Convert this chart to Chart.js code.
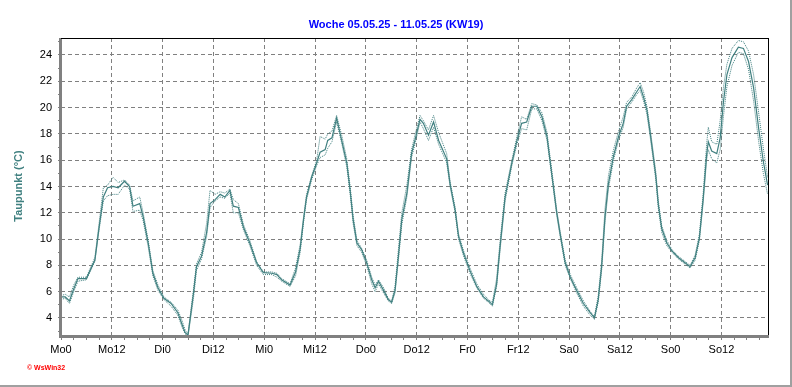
<!DOCTYPE html>
<html>
<head>
<meta charset="utf-8">
<script src="https://cdn.jsdelivr.net/npm/chart.js@4/dist/chart.umd.min.js"></script>
<style>
  html, body { margin: 0; padding: 0; background: #fff; }
  #wrap { width: 792px; height: 387px; }
</style>
</head>
<body>
<div id="wrap"><canvas id="taupunktChart" width="792" height="387"></canvas></div>
<script>
// Woche 05.05.25 - 11.05.25, Taupunkt in °C, Stunden ab Mo 0 Uhr
const xTickLabels = ['Mo0', 'Mo12', 'Di0', 'Di12', 'Mi0', 'Mi12', 'Do0', 'Do12', 'Fr0', 'Fr12', 'Sa0', 'Sa12', 'So0', 'So12'];
const yTickValues = [4, 6, 8, 10, 12, 14, 16, 18, 20, 22, 24];

const hours = [
    0, 1, 2, 3, 4, 6, 8, 9, 10, 11, 12.3, 13.5, 15, 16.2, 17, 18.6, 19.4, 20.6, 21.7, 22.9,
    24.3, 26, 27.6, 28.6, 29.3, 30, 31.3, 32, 33.2, 34.4, 35.2, 36.4, 37.6, 38.7, 39.9, 40.7, 41.9, 43.1, 44.6, 46.2,
    47.8, 49.8, 51, 52.1, 54.1, 55.4, 56.5, 57.3, 58, 59.2, 60.4, 61.2, 62.4, 63, 64, 65.1, 66.3, 67.5, 68.3, 69,
    69.9, 71, 72.2, 73.4, 74.2, 75, 76.2, 77.3, 78.1, 78.9, 79.7, 80.5, 81.7, 82.8, 83.6, 84.8, 85.6, 86.8, 88, 89.2,
    91.1, 91.9, 93.1, 93.9, 95.1, 96.6, 98.2, 99.8, 101.3, 101.9, 102.9, 103.7, 104.9, 106.5, 107.7, 108.8, 110, 111.2, 112.4, 113.6,
    114.8, 115.5, 116.3, 117.1, 117.9, 119.1, 120.3, 121.8, 123.4, 125, 126, 126.9, 127.7, 128.5, 129.3, 130.5, 131.7, 132.8, 133.6, 134.8,
    136, 136.8, 137.6, 138.4, 139.2, 139.9, 140.5, 141.1, 141.9, 143.1, 144.3, 145.8, 147.4, 148.6, 149.8, 150.8, 151.7, 152.5, 152.9, 153.7,
    154.9, 155.7, 156.5, 157.3, 158.5, 160, 161.2, 162.4, 163.6, 164.8, 165.9, 166.9
];

const taupunktMittel = [
    5.6, 5.6, 5.3, 6.2, 7.0, 7.0, 8.4, 10.9, 13.2, 13.9, 14.0, 13.9, 14.4, 14.0, 12.5, 12.7, 11.7, 9.7, 7.4, 6.3,
    5.5, 5.1, 4.4, 3.5, 2.9, 2.7, 5.9, 7.9, 8.7, 10.5, 12.7, 13.0, 13.4, 13.2, 13.7, 12.5, 12.4, 10.9, 9.7, 8.2,
    7.45, 7.4, 7.3, 6.9, 6.5, 7.5, 9.3, 11.5, 13.2, 14.7, 15.8, 16.6, 16.8, 17.5, 17.7, 19.2, 17.5, 15.8, 13.7, 11.5,
    9.7, 9.2, 8.2, 6.9, 6.3, 6.8, 6.1, 5.4, 5.2, 6.1, 8.7, 11.5, 13.5, 16.5, 17.5, 19.1, 18.8, 17.9, 18.9, 17.5,
    16.1, 14.2, 12.2, 10.2, 8.9, 7.6, 6.4, 5.6, 5.2, 5.0, 6.6, 9.4, 13.2, 15.8, 17.5, 18.8, 18.9, 20.1, 20.1, 19.3,
    17.8, 16.0, 14.0, 12.0, 10.4, 8.2, 7.1, 6.1, 5.1, 4.4, 4.0, 5.4, 7.9, 11.7, 14.2, 16.3, 17.8, 18.8, 20.1, 20.6,
    21.2, 21.6, 20.8, 19.8, 18.0, 16.3, 14.8, 12.6, 10.8, 9.7, 9.1, 8.6, 8.2, 7.9, 8.6, 10.1, 13.1, 16.4, 17.4, 16.7,
    16.5, 17.7, 20.5, 22.5, 23.8, 24.6, 24.5, 23.5, 21.5, 18.4, 15.9, 14.1
];

const taupunktMax = [
    5.7, 5.8, 5.6, 6.5, 7.1, 7.1, 8.6, 11.2, 13.9, 14.1, 14.7, 14.3, 14.5, 14.1, 12.9, 13.2, 12.0, 9.9, 7.6, 6.5,
    5.6, 5.2, 4.6, 3.8, 3.1, 2.8, 6.2, 8.1, 9.0, 11.2, 13.7, 13.4, 13.6, 13.5, 13.8, 13.0, 12.7, 11.1, 9.9, 8.3,
    7.5, 7.5, 7.4, 7.0, 6.6, 7.8, 9.6, 11.7, 13.4, 14.8, 16.0, 17.8, 17.6, 18.0, 18.2, 19.4, 17.9, 16.1, 14.0, 11.8,
    9.9, 9.3, 8.4, 7.1, 6.5, 6.9, 6.3, 5.5, 5.3, 6.4, 9.2, 12.0, 14.1, 16.8, 17.9, 19.4, 19.0, 18.3, 19.4, 18.1,
    16.5, 14.4, 12.4, 10.4, 9.1, 7.8, 6.6, 5.8, 5.3, 5.2, 7.0, 9.8, 13.5, 16.0, 17.8, 19.3, 19.1, 20.3, 20.2, 19.6,
    18.1, 16.3, 14.3, 12.2, 10.6, 8.4, 7.3, 6.3, 5.3, 4.5, 4.1, 5.7, 8.3, 12.3, 14.8, 16.8, 18.2, 19.3, 20.4, 20.8,
    21.5, 21.9, 21.2, 20.1, 18.3, 16.6, 15.1, 12.9, 11.0, 9.9, 9.2, 8.7, 8.3, 8.0, 8.8, 10.4, 13.5, 17.2, 18.5, 17.4,
    17.2, 19.0, 21.6, 23.3, 24.5, 25.1, 25.0, 24.3, 22.5, 19.6, 16.9, 14.7
];

const taupunktMin = [
    5.4, 5.5, 5.1, 6.0, 6.8, 6.9, 8.3, 10.7, 12.9, 13.3, 13.4, 13.4, 14.1, 13.8, 12.1, 12.2, 11.4, 9.4, 7.2, 6.1,
    5.4, 4.9, 4.2, 3.3, 2.8, 2.6, 5.5, 7.6, 8.5, 10.2, 12.4, 12.9, 13.2, 13.1, 13.5, 12.0, 12.0, 10.7, 9.5, 8.0,
    7.3, 7.3, 7.1, 6.8, 6.4, 7.2, 9.0, 11.3, 13.0, 14.5, 15.6, 16.2, 16.4, 16.9, 17.4, 18.9, 17.3, 15.5, 13.4, 11.2,
    9.5, 9.0, 8.0, 6.6, 6.0, 6.6, 5.9, 5.3, 5.1, 5.9, 8.4, 11.1, 13.2, 16.2, 17.2, 18.9, 18.4, 17.5, 18.5, 17.2,
    15.8, 14.0, 12.0, 10.0, 8.7, 7.4, 6.3, 5.5, 5.1, 4.9, 6.4, 9.1, 12.9, 15.6, 17.2, 18.4, 18.3, 19.9, 19.9, 19.0,
    17.5, 15.8, 13.8, 11.8, 10.2, 8.0, 7.0, 5.9, 4.9, 4.2, 3.9, 5.2, 7.6, 11.3, 13.8, 16.0, 17.5, 18.5, 19.9, 20.4,
    21.0, 21.3, 20.5, 19.5, 17.7, 16.0, 14.5, 12.3, 10.5, 9.5, 9.0, 8.5, 8.1, 7.8, 8.4, 9.9, 12.8, 16.0, 16.8, 16.1,
    15.8, 16.8, 19.4, 21.6, 23.2, 24.2, 24.1, 22.9, 20.5, 17.4, 15.0, 13.4
];

const lineColor = '#408080';
const gridColor = '#808080';

const toPoints = values => hours.map((h, i) => ({ x: h, y: values[i] }));

// Rahmen, Achsen und Beschriftung wie im WsWin32-Bild
const frameAndText = {
    id: 'frameAndText',
    beforeDraw(chart) {
        const c = chart.ctx;
        c.save();
        c.fillStyle = '#ffffff';
        c.fillRect(0, 0, chart.width, chart.height);
        c.restore();
    },
    afterDraw(chart) {
        const c = chart.ctx;
        const a = chart.chartArea;
        c.save();
        // Achsen links und unten (grau, dick)
        c.fillStyle = gridColor;
        c.fillRect(a.left - 2, a.top, 3, a.bottom - a.top + 2);
        c.fillRect(a.left - 2, a.bottom - 1, a.right - a.left + 3, 3);
        // oben und rechts schwarz
        c.fillStyle = '#000000';
        c.fillRect(a.left, a.top, a.right - a.left + 1, 1);
        c.fillRect(a.right, a.top, 1, a.bottom - a.top - 1);
        // äußerer Rahmen
        c.fillStyle = '#a0a0a0';
        c.fillRect(chart.width - 2, 0, 2, chart.height);
        c.fillRect(0, chart.height - 2, chart.width, 2);

        c.fillStyle = '#0000ff';
        c.font = 'bold 11px "Liberation Sans", Arial, sans-serif';
        c.textAlign = 'center';
        c.textBaseline = 'alphabetic';
        c.fillText('Woche 05.05.25 - 11.05.25 (KW19)', 396, 28);

        c.translate(22, 186);
        c.rotate(-Math.PI / 2);
        c.fillStyle = lineColor;
        c.fillText('Taupunkt (°C)', 0, 0);
        c.restore();

        c.save();
        c.fillStyle = '#ff0000';
        c.font = 'bold 7px "Liberation Sans", Arial, sans-serif';
        c.textAlign = 'left';
        c.textBaseline = 'middle';
        c.fillText('© WsWin32', 27, 368);
        c.restore();
    }
};

new Chart(document.getElementById('taupunktChart'), {
    type: 'line',
    data: {
        datasets: [
            {
                label: 'Taupunkt max',
                data: toPoints(taupunktMax),
                borderColor: lineColor,
                borderWidth: 1,
                borderDash: [1, 1],
                pointRadius: 0,
                tension: 0,
                fill: false
            },
            {
                label: 'Taupunkt min',
                data: toPoints(taupunktMin),
                borderColor: lineColor,
                borderWidth: 1,
                borderDash: [1, 1],
                pointRadius: 0,
                tension: 0,
                fill: false
            },
            {
                label: 'Taupunkt',
                data: toPoints(taupunktMittel),
                borderColor: lineColor,
                borderWidth: 1.2,
                pointRadius: 0,
                tension: 0,
                fill: false
            }
        ]
    },
    options: {
        responsive: false,
        animation: false,
        devicePixelRatio: 1,
        layout: { padding: { top: 38, right: 24, left: 0, bottom: 0 } },
        plugins: {
            legend: { display: false },
            title: { display: false },
            tooltip: { enabled: false }
        },
        scales: {
            x: {
                type: 'linear',
                min: 0,
                max: 167,
                afterFit: scale => { scale.height = 51; },
                border: { display: false, dash: [4, 3] },
                grid: {
                    color: ctx => (ctx.tick && ctx.tick.value % 12 === 0 && ctx.tick.value > 0) ? gridColor : 'rgba(0,0,0,0)',
                    tickColor: gridColor,
                    tickLength: 4,
                    lineWidth: 1
                },
                ticks: {
                    stepSize: 3,
                    autoSkip: false,
                    includeBounds: false,
                    maxRotation: 0,
                    padding: 3,
                    color: '#000000',
                    font: { family: '"Liberation Sans", Arial, sans-serif', size: 11 },
                    callback: v => (v % 12 === 0 ? xTickLabels[v / 12] : '')
                }
            },
            y: {
                min: 2.63,
                max: 25.29,
                afterFit: scale => { scale.width = 61; },
                border: { display: false, dash: [4, 3] },
                grid: {
                    color: ctx => (ctx.tick && yTickValues.includes(ctx.tick.value)) ? gridColor : 'rgba(0,0,0,0)',
                    tickColor: gridColor,
                    tickLength: 3,
                    lineWidth: 1
                },
                ticks: {
                    stepSize: 1,
                    autoSkip: false,
                    includeBounds: false,
                    padding: 6,
                    color: '#000000',
                    font: { family: '"Liberation Sans", Arial, sans-serif', size: 11 },
                    callback: v => (yTickValues.includes(v) ? String(v) : '')
                }
            }
        }
    },
    plugins: [frameAndText]
});
</script>
</body>
</html>
